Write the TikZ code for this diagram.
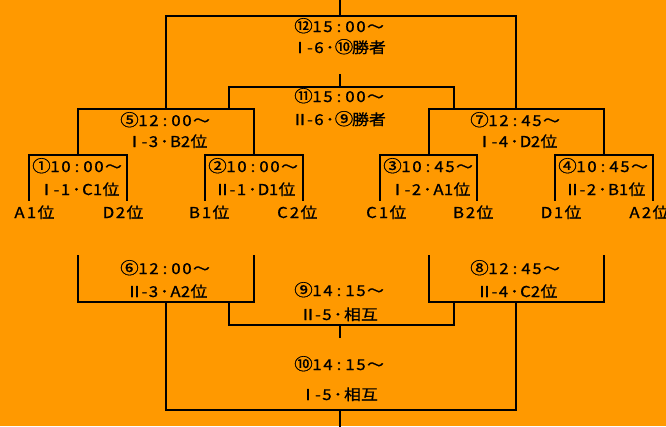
\documentclass[tikz,border=0pt]{standalone}
\usepackage{fontspec}
\setmainfont[FakeStretch=1.12,FakeBold=0.9]{Noto Sans CJK JP}
\definecolor{bg}{HTML}{FF9900}
\newcommand\bx[2]{\makebox[#1pt][c]{#2}}
\newcommand\cn[1]{{\fontsize{16.5pt}{16.5pt}\selectfont #1}}
% time line: circled number, four digits
\newcommand\tl[5]{\bx{16}{\cn{#1}}\bx{11}{#2}\bx{11}{#3}\bx{11}{:}\bx{11}{#4}\bx{11}{#5}\bx{18}{～}}
% match line prefix: roman numeral, number
\newcommand\pre[2]{\bx{12}{#1}\bx{8}{-}\bx{10}{#2}\bx{12}{･}}
\newcommand\rk[2]{\bx{10}{#1}\bx{10}{#2}\bx{17}{位}}
\newcommand\lf[2]{\bx{13}{#1}\bx{11}{#2}\bx{18}{位}}
\begin{document}
\begin{tikzpicture}[x=1pt,y=-1pt,
  line/.style={line width=2pt,black,line cap=rect},
  lbl/.style={anchor=base,inner sep=0pt,font=\fontsize{15pt}{15pt}\selectfont,text=black}]
\fill[bg] (0,0) rectangle (666,426);
\useasboundingbox (0,0) rectangle (666,426);
% top brackets
\coordinate (top) at (340,0);
\coordinate (t12) at (340,16);
\draw[line] (top) -- (t12);
\draw[line] (166,109) -- (166,16) -- (516,16) -- (516,109);
\draw[line] (340,75) -- (340,87);
\draw[line] (229,109) -- (229,87) -- (454,87) -- (454,109);
\draw[line] (78,155) -- (78,109) -- (254,109) -- (254,155);
\draw[line] (429,155) -- (429,109) -- (604,109) -- (604,155);
\draw[line] (29,200) -- (29,155) -- (127,155) -- (127,200);
\draw[line] (205,200) -- (205,155) -- (303,155) -- (303,200);
\draw[line] (380,200) -- (380,155) -- (477,155) -- (477,200);
\draw[line] (555,200) -- (555,155) -- (653,155) -- (653,200);
% bottom brackets
\draw[line] (78,256) -- (78,302) -- (254,302) -- (254,256);
\draw[line] (429,256) -- (429,302) -- (604,302) -- (604,256);
\draw[line] (229,302) -- (229,325) -- (454,325) -- (454,302);
\draw[line] (340,325) -- (340,337);
\draw[line] (166,302) -- (166,410) -- (516,410) -- (516,302);
\draw[line] (340,410) -- (340,430);
% labels
\node[lbl] (m12a) at (340,32) {\tl{⑫}{1}{5}{0}{0}};
\node[lbl] (m12b) at (340,53) {\pre{Ⅰ}{6}\bx{16}{\cn{⑩}}\bx{17}{勝}\bx{17}{者}};
\node[lbl] (m11a) at (340,102) {\tl{⑪}{1}{5}{0}{0}};
\node[lbl] (m11b) at (340,125) {\pre{Ⅱ}{6}\bx{16}{\cn{⑨}}\bx{17}{勝}\bx{17}{者}};
\node[lbl] (m5a) at (166,126) {\tl{⑤}{1}{2}{0}{0}};
\node[lbl] (m5b) at (168,147) {\pre{Ⅰ}{3}\rk{B}{2}};
\node[lbl] (m7a) at (516,126) {\tl{⑦}{1}{2}{4}{5}};
\node[lbl] (m7b) at (518,147) {\pre{Ⅰ}{4}\rk{D}{2}};
\node[lbl] (m1a) at (78,172) {\tl{①}{1}{0}{0}{0}};
\node[lbl] (m1b) at (80,195) {\pre{Ⅰ}{1}\rk{C}{1}};
\node[lbl] (m2a) at (254,172) {\tl{②}{1}{0}{0}{0}};
\node[lbl] (m2b) at (256,195) {\pre{Ⅱ}{1}\rk{D}{1}};
\node[lbl] (m3a) at (429,172) {\tl{③}{1}{0}{4}{5}};
\node[lbl] (m3b) at (431,195) {\pre{Ⅰ}{2}\rk{A}{1}};
\node[lbl] (m4a) at (604,172) {\tl{④}{1}{0}{4}{5}};
\node[lbl] (m4b) at (606,195) {\pre{Ⅱ}{2}\rk{B}{1}};
\node[lbl] (l1) at (34,218) {\lf{A}{1}};
\node[lbl] (l2) at (123,218) {\lf{D}{2}};
\node[lbl] (l3) at (209,218) {\lf{B}{1}};
\node[lbl] (l4) at (297,218) {\lf{C}{2}};
\node[lbl] (l5) at (386,218) {\lf{C}{1}};
\node[lbl] (l6) at (473,218) {\lf{B}{2}};
\node[lbl] (l7) at (561,218) {\lf{D}{1}};
\node[lbl] (l8) at (649,218) {\lf{A}{2}};
\node[lbl] (m6a) at (166,274) {\tl{⑥}{1}{2}{0}{0}};
\node[lbl] (m6b) at (168,297) {\pre{Ⅱ}{3}\rk{A}{2}};
\node[lbl] (m8a) at (516,274) {\tl{⑧}{1}{2}{4}{5}};
\node[lbl] (m8b) at (518,297) {\pre{Ⅱ}{4}\rk{C}{2}};
\node[lbl] (m9a) at (340,296) {\tl{⑨}{1}{4}{1}{5}};
\node[lbl] (m9b) at (340,320) {\pre{Ⅱ}{5}\bx{17}{相}\bx{17}{互}};
\node[lbl] (m10a) at (340,370) {\tl{⑩}{1}{4}{1}{5}};
\node[lbl] (m10b) at (340,400) {\pre{Ⅰ}{5}\bx{17}{相}\bx{17}{互}};
\end{tikzpicture}
\end{document}
